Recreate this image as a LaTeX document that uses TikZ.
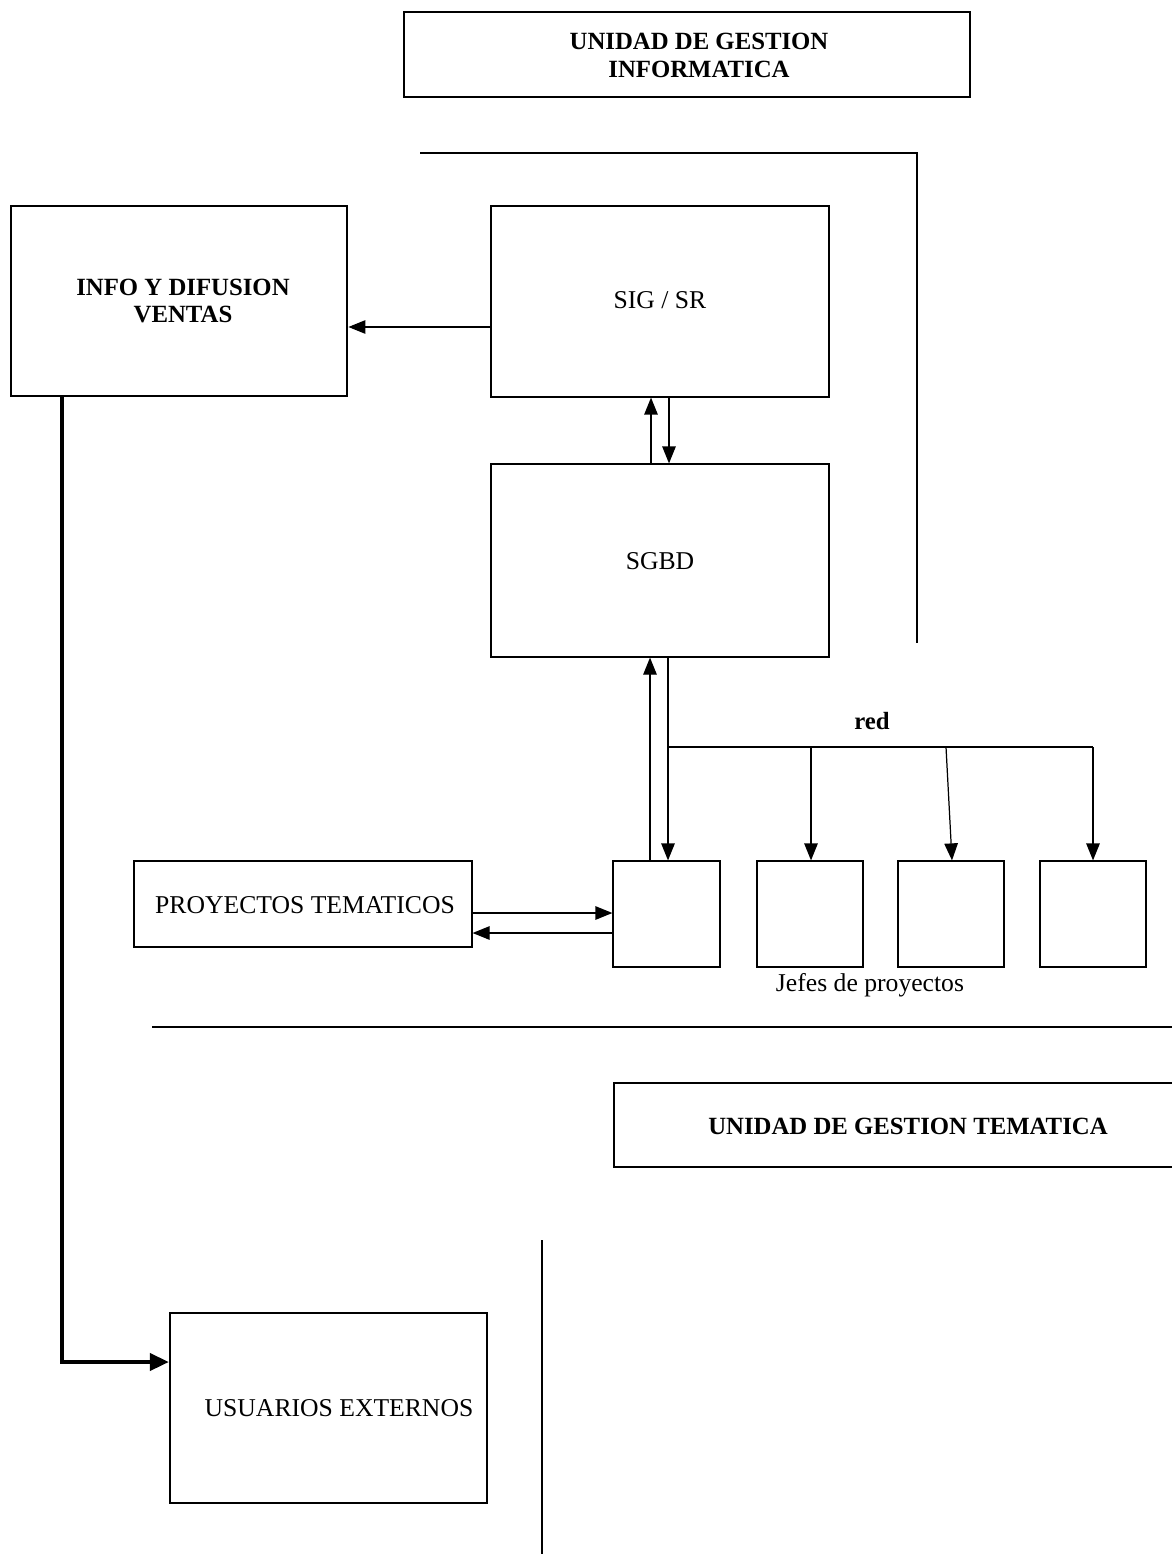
\documentclass[tikz,border=0pt]{standalone}
\usepackage{fontspec}
\setmainfont{Liberation Serif}
\usetikzlibrary{arrows.meta,fit}
\begin{document}
\begin{tikzpicture}[x=0.02cm,y=-0.02cm,
  thinbox/.style={draw, line width=0.7pt, inner sep=0pt},
  thickbox/.style={draw, line width=1.6pt, inner sep=0pt},
  arr/.style={line width=0.7pt, -{Triangle[length=0.34cm,width=0.27cm]}},
  bigarr/.style={line width=2.2pt, -{Triangle[length=0.38cm,width=0.34cm]}},
  rule/.style={line width=1.5pt},
  lbl/.style={inner sep=0pt, font=\fontsize{14.6}{16}\selectfont},
  blbl/.style={inner sep=0pt, align=center, font=\bfseries\fontsize{14.1}{15.9}\selectfont}]
\useasboundingbox[fill=white] (0,0) rectangle (1172,1554);

% header box
\node[thickbox, fit={(404,12) (970,97)}] (ugi) {};
\node[blbl] (ugitxt) at (699,55) {UNIDAD DE GESTION\\INFORMATICA};

% boundary lines
\coordinate (r1a) at (420,153);
\coordinate (r1b) at (917,153);
\coordinate (r1c) at (917,643);
\draw[rule] (r1a) -- (r1b) -- (r1c);
\coordinate (r2a) at (152,1027);
\coordinate (r2b) at (1180,1027);
\draw[rule] (r2a) -- (r2b);
\coordinate (r3a) at (542,1240);
\coordinate (r3b) at (542,1560);
\draw[line width=1.1pt] (r3a) -- (r3b);

% main boxes
\node[thickbox, fit={(11,206) (347,396)}] (info) {};
\node[blbl] (infotxt) at (183,301) {INFO Y DIFUSION\\VENTAS};
\node[thinbox, fit={(491,206) (829,397)}] (sig) {};
\node[lbl] (sigtxt) at (660,300) {SIG / SR};
\node[thinbox, fit={(491,464) (829,657)}] (sgbd) {};
\node[lbl] (sgbdtxt) at (660,561) {SGBD};

\node[thinbox, fit={(134,861) (472,947)}] (proy) {};
\node[lbl] (proytxt) at (305,905) {PROYECTOS TEMATICOS};

\node[thinbox, fit={(613,861) (720,967)}] (j1) {};
\node[thinbox, fit={(757,861) (863,967)}] (j2) {};
\node[thinbox, fit={(898,861) (1004,967)}] (j3) {};
\node[thinbox, fit={(1040,861) (1146,967)}] (j4) {};
\node[lbl] (jefes) at (870,985) {Jefes de proyectos};
\node[blbl] (red) at (872,721) {red};

\node[thickbox, fit={(614,1083) (1190,1167)}] (ugt) {};
\node[blbl] (ugttxt) at (908,1126) {UNIDAD DE GESTION TEMATICA};

\node[thickbox, line width=1.3pt, fit={(170,1313) (487,1503)}] (usu) {};
\node[lbl] (usutxt) at (339,1408) {USUARIOS EXTERNOS};

% connectors
\draw[arr] (sig.west |- 0,327) -- (info.east |- 0,327);
\draw[arr] (sgbd.north -| 651,0) -- (sig.south -| 651,0);
\draw[arr] (sig.south -| 669,0) -- (sgbd.north -| 669,0);
\draw[arr] (j1.north -| 650,0) -- (sgbd.south -| 650,0);
\draw[arr] (sgbd.south -| 668,0) -- (j1.north -| 668,0);
\coordinate (n0) at (668,747);
\coordinate (n2) at (811,747);
\coordinate (n3) at (946,747);
\coordinate (n4) at (1093,747);
\draw[line width=0.7pt] (n0) -- (n4);
\draw[arr] (n2) -- (j2.north -| n2);
\draw[arr] (n3) -- (j3.north -| 952,0);
\draw[arr] (n4) -- (j4.north -| n4);
\draw[arr] (proy.east |- 0,913) -- (j1.west |- 0,913);
\draw[arr] (j1.west |- 0,933) -- (proy.east |- 0,933);
\coordinate (bend) at (62,1362);
\draw[bigarr] (info.south -| 62,0) -- (bend) -- (usu.west |- bend);
\end{tikzpicture}
\end{document}
